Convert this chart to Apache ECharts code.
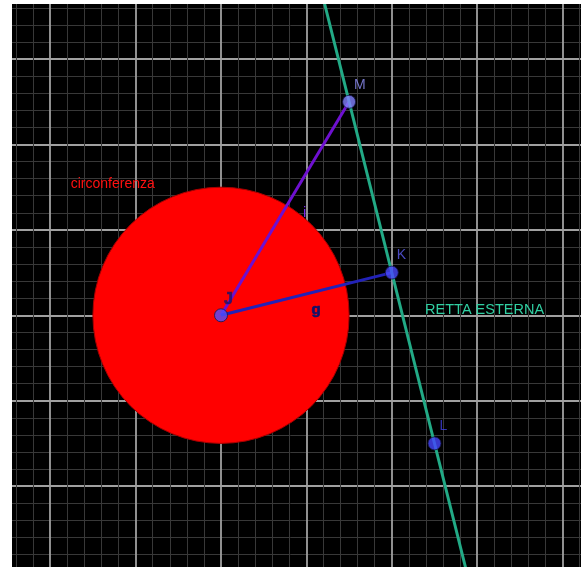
<!DOCTYPE html>
<html><head><meta charset="utf-8">
<script src="https://cdn.jsdelivr.net/npm/echarts@6/dist/echarts.min.js"></script>
<style>html,body{margin:0;padding:0;background:#fff}#c{width:581px;height:567px}</style>
</head><body><div id="c"></div>
<script>
// Geometry (data units, one unit = one major grid square)
const circleCenter = [0, 0];
const circleRadius = 1.5;
const pointNames = ['J', 'K', 'M', 'L'];
const pointX = [0, 2, 1.5, 2.5];
const pointY = [0, 0.5, 2.5, -1.5];
const segJM = [[0, 0], [1.5, 2.5]];
const segJK = [[0, 0], [2, 0.5]];
const rettaEnds = [[0.875, 5], [3.125, -4]];
const textLabels = ['circonferenza', 'RETTA ESTERNA', 'g', 'i'];
const textX = [-1.76, 2.39, 1.06, 0.96];
const textY = [1.53, 0.06, 0.06, 1.2];

const U = 85.4;
const chart = echarts.init(document.getElementById('c'));
const font = 'Liberation Sans, Arial, sans-serif';
const pointColors = {J: '#5050ff', K: '#4a4aff', M: '#8282ff', L: '#4646ff'};
const pointLabelColors = {J: '#16166a', K: '#5c5cf0', M: '#9090f8', L: '#4040e0'};
const textColors = ['#ff1010', '#30cfa2', '#12126a', '#7a26e8'];
const textSizes = [14, 14.5, 15, 15];
const textWeights = ['normal', 'normal', 'bold', 'normal'];

chart.setOption({
  backgroundColor: '#000',
  animation: false,
  grid: {left: 221 - 3 * U, top: 315.3 - 4 * U, width: 8 * U, height: 7 * U, show: false,
    containLabel: false, outerBoundsMode: 'none'},
  xAxis: {type: 'value', min: -3, max: 5, interval: 1,
    axisLine: {show: false}, axisTick: {show: false}, axisLabel: {show: false},
    splitLine: {show: true, lineStyle: {color: '#a0a0a0', width: 1.8}},
    minorTick: {show: false, splitNumber: 5},
    minorSplitLine: {show: true, lineStyle: {color: '#383838', width: 1}}},
  yAxis: {type: 'value', min: -3, max: 4, interval: 1,
    axisLine: {show: false}, axisTick: {show: false}, axisLabel: {show: false},
    splitLine: {show: true, lineStyle: {color: '#a0a0a0', width: 1.8}},
    minorTick: {show: false, splitNumber: 5},
    minorSplitLine: {show: true, lineStyle: {color: '#383838', width: 1}}},
  graphic: [
    {type: 'rect', left: 0, top: 0, shape: {width: 12, height: 567}, style: {fill: '#fff'}, z: 100},
    {type: 'rect', left: 0, top: 0, shape: {width: 581, height: 4}, style: {fill: '#fff'}, z: 100}
  ],
  series: [
    {type: 'custom', z: 2, data: [[circleCenter[0], circleCenter[1], circleRadius]],
      renderItem: function (params, api) {
        const c = api.coord([api.value(0), api.value(1)]);
        const r = api.size([api.value(2), 0])[0];
        return {type: 'circle', shape: {cx: c[0], cy: c[1], r: r},
          style: {fill: '#ff0000', stroke: '#a80000', lineWidth: 1}};
      }},
    {type: 'line', z: 3, data: segJM, symbol: 'none', lineStyle: {color: '#6e10d0', width: 3}},
    {type: 'line', z: 3, data: segJK, symbol: 'none', lineStyle: {color: '#2222b8', width: 3}},
    {type: 'line', z: 3, data: rettaEnds, symbol: 'none', lineStyle: {color: '#22aa86', width: 3}},
    {type: 'scatter', z: 5, symbolSize: 13,
      data: pointNames.map((n, i) => ({value: [pointX[i], pointY[i]], name: n,
        itemStyle: {color: pointColors[n], borderColor: '#15154a', borderWidth: 1},
        label: {show: true, formatter: n, position: [n === 'J' ? 10 : 12, -17],
          color: pointLabelColors[n], fontFamily: font,
          fontSize: n === 'J' ? 16 : 14, fontWeight: n === 'J' ? 'bold' : 'normal',
          textBorderColor: n === 'J' ? pointLabelColors[n] : 'transparent',
          textBorderWidth: n === 'J' ? 0.6 : 0}}))},
    {type: 'custom', z: 6, silent: true,
      data: textLabels.map((t, i) => [textX[i], textY[i], i]),
      renderItem: function (params, api) {
        const i = api.value(2);
        const c = api.coord([api.value(0), api.value(1)]);
        const bold = textWeights[i] === 'bold';
        return {type: 'text', x: c[0], y: c[1], z2: 10,
          style: {text: textLabels[i], fill: textColors[i], align: 'left', verticalAlign: 'middle',
            font: (bold ? 'bold ' : '') + textSizes[i] + 'px ' + font,
            stroke: bold ? textColors[i] : null, lineWidth: bold ? 0.6 : 0}};
      }}
  ]
});
</script></body></html>
